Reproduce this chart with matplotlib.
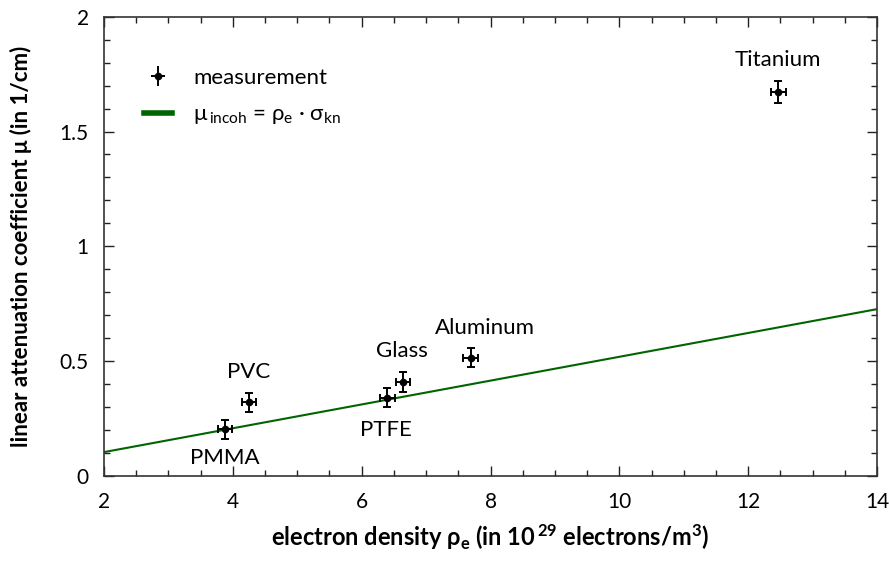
import matplotlib
matplotlib.use("Agg")
import matplotlib.pyplot as plt
from matplotlib.lines import Line2D
from matplotlib.legend_handler import HandlerErrorbar
from matplotlib.ticker import MultipleLocator

plt.rcParams['font.family'] = ['Lato', 'DejaVu Sans']
plt.rcParams['mathtext.default'] = 'regular'

materials = ["PMMA", "PVC", "PTFE", "Glass", "Aluminum", "Titanium"]
rho_e = [3.88, 4.25, 6.40, 6.64, 7.69, 12.47]
mu = [0.203, 0.320, 0.340, 0.408, 0.514, 1.673]
rho_err = [0.11, 0.11, 0.11, 0.11, 0.11, 0.12]
mu_err = [0.042, 0.042, 0.042, 0.042, 0.042, 0.048]

label_x = [3.88, 4.25, 6.37, 6.63, 7.91, 12.46]
label_y = [0.077, 0.453, 0.199, 0.543, 0.644, 1.814]

line_x = [2, 14]
line_y = [0.103, 0.726]

green = '#006400'

fig = plt.figure(figsize=(8.89, 5.61), dpi=100)
ax = fig.add_axes([0.117, 0.152, 0.8695, 0.818])

ax.plot(line_x, line_y, color=green, lw=1.5, zorder=2)
ax.errorbar(rho_e, mu, xerr=rho_err, yerr=mu_err, fmt='o', color='black',
            ms=4.5, elinewidth=1.4, capsize=3, capthick=1.4, zorder=3)

for name, x, y in zip(materials, label_x, label_y):
    ax.text(x, y, name, ha='center', va='center', fontsize=16)

ax.set_xlim(2, 14)
ax.set_ylim(0, 2)
ax.xaxis.set_major_locator(MultipleLocator(2))
ax.xaxis.set_minor_locator(MultipleLocator(0.5))
ax.yaxis.set_major_locator(MultipleLocator(0.5))
ax.yaxis.set_minor_locator(MultipleLocator(0.1))
ax.set_yticks([0, 0.5, 1, 1.5, 2])
ax.set_yticklabels(['0', '0.5', '1', '1.5', '2'])
ax.tick_params(which='both', direction='in', top=True, right=True, labelsize=15,
               color='#222222')
ax.tick_params(which='major', length=7.2, width=1)
ax.tick_params(axis='x', which='major', pad=12)
ax.tick_params(axis='y', which='major', pad=11)
ax.tick_params(which='minor', length=4.5, width=1)
for s in ax.spines.values():
    s.set_linewidth(1.2)
    s.set_color('#333333')

ax.set_xlabel(r'electron density ρ$_e$ (in 10$^{\,29}$ electrons/m$^3$)',
              fontsize=17, fontweight='bold', labelpad=7)
ax.set_ylabel('linear attenuation coefficient μ (in 1/cm)',
              fontsize=16, fontweight='bold', labelpad=20)

h1 = ax.errorbar([], [], xerr=[], yerr=[], fmt='o', color='black', ms=4.5,
                 elinewidth=1.4, capsize=3, capthick=1.4)
h2 = Line2D([], [], color=green, lw=4)
ax.legend([h1, h2], ['measurement', r'μ$_{\,incoh}$ = ρ$_e$ · σ$_{kn}$'],
          loc='upper left', bbox_to_anchor=(0.032, 0.923), frameon=False,
          fontsize=16, handlelength=1.25, handletextpad=0.95,
          borderaxespad=0.3, labelspacing=0.75,
          handler_map={type(h1): HandlerErrorbar(xerr_size=0.32, yerr_size=0.45)})

fig.savefig('out.png', dpi=100)
